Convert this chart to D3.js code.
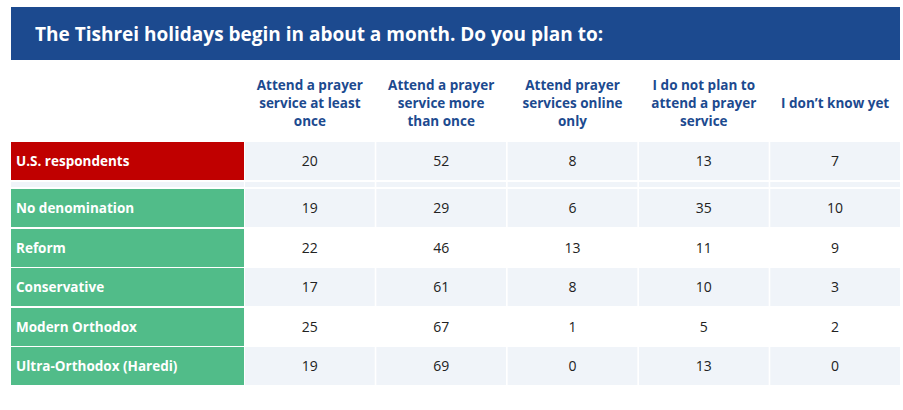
<!DOCTYPE html><html><head><meta charset="utf-8">
<script src="https://cdn.jsdelivr.net/npm/d3@7"></script>
<style>body{margin:0;background:#fff}</style></head><body><svg id="c" width="903" height="410"></svg>
<script>
const title = "The Tishrei holidays begin in about a month. Do you plan to:";
const columns = [
  ["Attend a prayer","service at least","once"],
  ["Attend a prayer","service more","than once"],
  ["Attend prayer","services online","only"],
  ["I do not plan to","attend a prayer","service"],
  ["I don’t know yet"]
];
const rowLabels = ["U.S. respondents","No denomination","Reform","Conservative","Modern Orthodox","Ultra-Orthodox (Haredi)"];
const values = [
  [20,52,8,13,7],
  [19,29,6,35,10],
  [22,46,13,11,9],
  [17,61,8,10,3],
  [25,67,1,5,2],
  [19,69,0,13,0]
];
const svg = d3.select("#c");
const font = "'Open Sans', sans-serif";
svg.append("rect").attr("x",11).attr("y",7).attr("width",889).attr("height",53).attr("fill","#1c4a8f");
svg.append("text").attr("x",35).attr("y",41).attr("fill","#fff").attr("font-family",font).attr("font-weight",700).attr("font-size",19).text(title);

const x = d3.scaleBand().domain(d3.range(5)).range([245,900]).paddingInner(0.012);
const rowY = [142,189,229,268,308,347];
const rh = 38;
// header
columns.forEach((lines,i)=>{
  const cx = x(i)+x.bandwidth()/2;
  const n = lines.length;
  const t = svg.append("text").attr("text-anchor","middle").attr("font-family",font).attr("font-weight",700).attr("font-size",13.5).attr("fill","#1c4a8f");
  lines.forEach((l,j)=>t.append("tspan").attr("x",cx).attr("y",103+(j-(n-1)/2)*18+5).text(l));
});
// separator strip
d3.range(5).forEach(i=>svg.append("rect").attr("x",x(i)).attr("y",182).attr("width",x.bandwidth()).attr("height",5).attr("fill","#f0f4f9"));
svg.append("rect").attr("x",11).attr("y",182).attr("width",233).attr("height",5).attr("fill","#f0f4f9");
rowLabels.forEach((lab,r)=>{
  const y = rowY[r];
  svg.append("rect").attr("x",11).attr("y",y).attr("width",233).attr("height",rh).attr("fill", r===0?"#c00000":"#51bc89");
  svg.append("text").attr("x",16).attr("y",y+rh/2+5).attr("fill","#fff").attr("font-family",font).attr("font-weight",700).attr("font-size",13.5).text(lab);
  values[r].forEach((v,i)=>{
    svg.append("rect").attr("x",x(i)).attr("y",y).attr("width",x.bandwidth()).attr("height",rh).attr("fill", (r===2||r===4)?"#ffffff":"#f0f4f9");
    svg.append("text").attr("x",x(i)+x.bandwidth()/2).attr("y",y+rh/2+5).attr("text-anchor","middle").attr("font-family",font).attr("font-size",14).attr("fill","#222").text(v);
  });
});
</script></body></html>
